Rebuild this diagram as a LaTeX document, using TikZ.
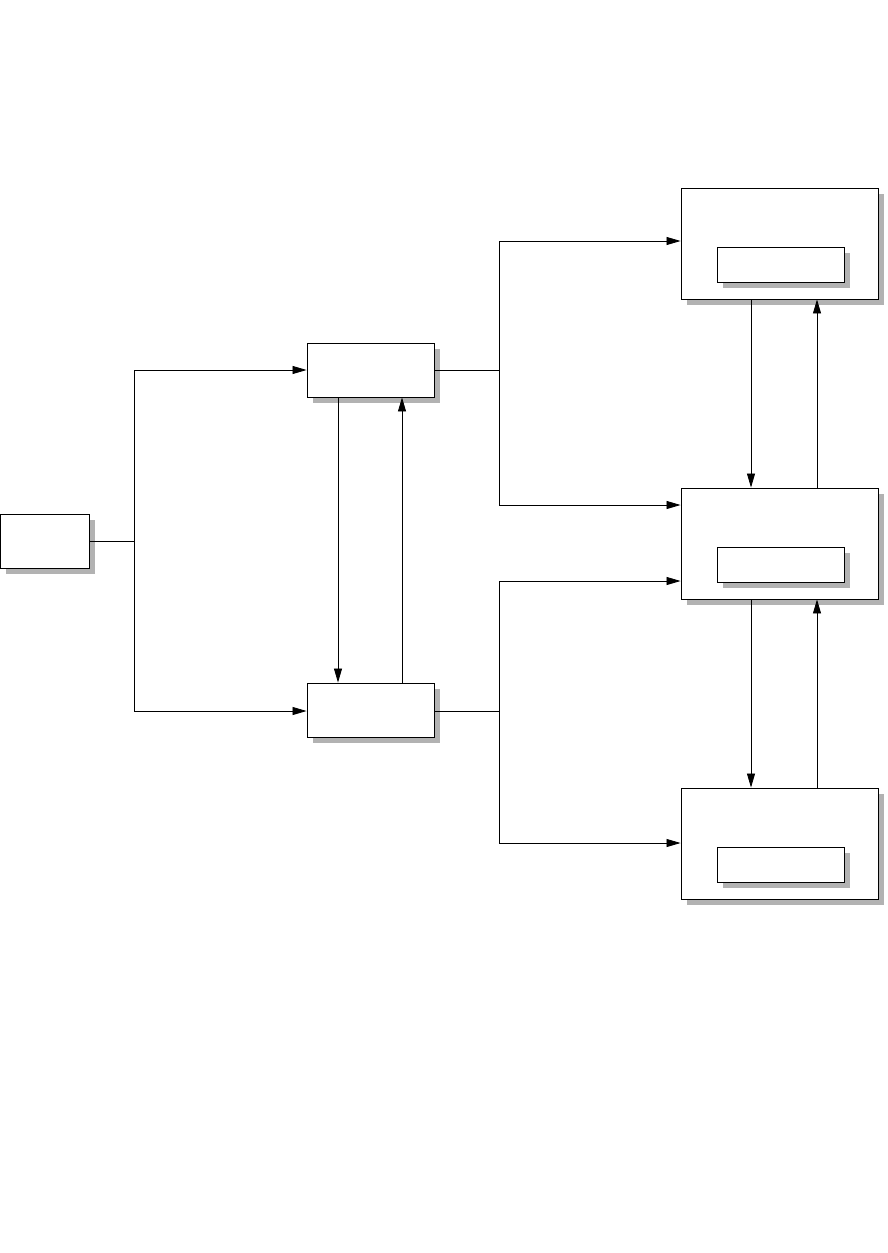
\documentclass[tikz,border=0pt]{standalone}
\usetikzlibrary{arrows.meta,shadows}
\begin{document}
\begin{tikzpicture}[x=1pt,y=-1pt,
  blk/.style={draw,line width=0.9pt,fill=white,rectangle,inner sep=0pt,
    drop shadow={shadow xshift=5.5pt,shadow yshift=-6pt,fill=black!30,opacity=1}},
  conn/.style={line width=0.8pt},
  arr/.style={conn,-{Triangle[length=14pt,width=8pt]}}]
\useasboundingbox (0,0) rectangle (888,1253);
% nodes
\node[blk,minimum width=89pt,minimum height=54pt] (a) at (44.5,541) {};
\node[blk,minimum width=127pt,minimum height=54pt] (b1) at (370.5,370) {};
\node[blk,minimum width=127pt,minimum height=54pt] (b2) at (370.5,710) {};
\node[blk,minimum width=197pt,minimum height=111pt] (c1) at (779.5,243.5) {};
\node[blk,minimum width=127pt,minimum height=35pt] (i1) at (780.5,264.5) {};
\node[blk,minimum width=197pt,minimum height=111pt] (c2) at (779.5,543.5) {};
\node[blk,minimum width=127pt,minimum height=35pt] (i2) at (780.5,564.5) {};
\node[blk,minimum width=197pt,minimum height=111pt] (c3) at (779.5,843.5) {};
\node[blk,minimum width=127pt,minimum height=35pt] (i3) at (780.5,864.5) {};
% junction coordinates
\coordinate (ja) at (134,541);
\coordinate (jb1) at (499,370);
\coordinate (jb2) at (499,711);
% A -> B1, B2
\draw[conn] (a.east) -- (ja);
\draw[arr] (ja) |- (b1.west);
\draw[arr] (ja) |- (b2.west |- jb2);
% B1 -> C1, C2
\draw[conn] (b1.east) -- (jb1);
\draw[arr] (jb1) |- (c1.west |- 0,241);
\draw[arr] (jb1) |- (c2.west |- 0,505);
% B2 -> C2, C3
\draw[conn] (b2.east |- jb2) -- (jb2);
\draw[arr] (jb2) |- (c2.west |- 0,581);
\draw[arr] (jb2) |- (c3.west |- 0,843);
% B1 <-> B2
\draw[arr] (b1.south -| 338,0) -- (b2.north -| 338,0);
\draw[arr] (b2.north -| 402,0) -- (b1.south -| 402,0);
% C1 <-> C2
\draw[arr] (c1.south -| 751,0) -- (c2.north -| 751,0);
\draw[arr] (c2.north -| 817,0) -- (c1.south -| 817,0);
% C2 <-> C3
\draw[arr] (c2.south -| 751,0) -- (c3.north -| 751,0);
\draw[arr] (c3.north -| 817,0) -- (c2.south -| 817,0);
\end{tikzpicture}
\end{document}
